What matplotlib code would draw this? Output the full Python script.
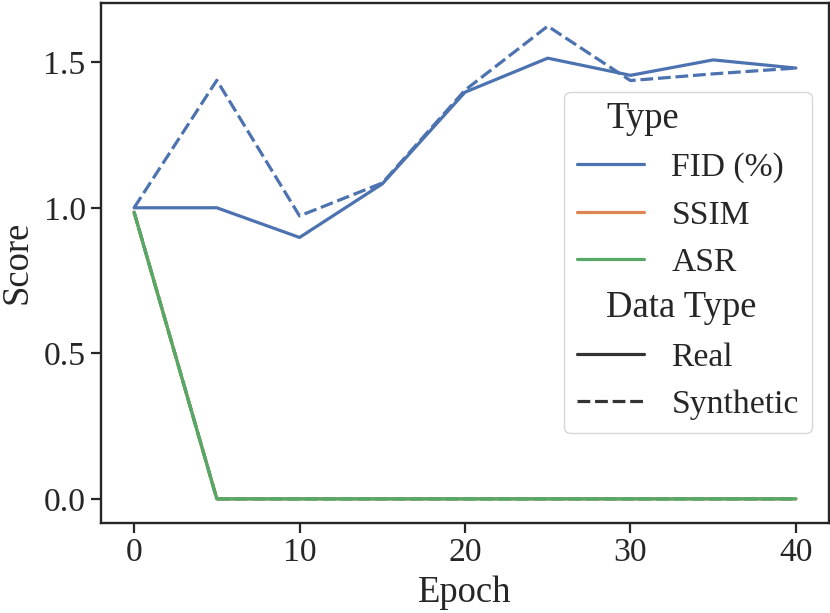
import matplotlib
matplotlib.use("Agg")
import matplotlib.pyplot as plt
import seaborn as sns
import pandas as pd

epochs = [0, 5, 10, 15, 20, 25, 30, 35, 40]
fid_real = [1.0, 1.0, 0.898, 1.082, 1.397, 1.514, 1.455, 1.508, 1.480]
fid_synth = [1.0, 1.438, 0.972, 1.085, 1.404, 1.624, 1.437, 1.460, 1.480]
ssim_real = [0.985, 0.0, 0.0, 0.0, 0.0, 0.0, 0.0, 0.0, 0.0]
ssim_synth = [0.985, 0.0, 0.0, 0.0, 0.0, 0.0, 0.0, 0.0, 0.0]
asr_real = [0.985, 0.0, 0.0, 0.0, 0.0, 0.0, 0.0, 0.0, 0.0]
asr_synth = [0.985, 0.0, 0.0, 0.0, 0.0, 0.0, 0.0, 0.0, 0.0]

type_names = ["FID (%)", "SSIM", "ASR"]
data_types = ["Real", "Synthetic"]
legend_titles = ["Type", "Data Type"]
series = {
    ("FID (%)", "Real"): fid_real,
    ("FID (%)", "Synthetic"): fid_synth,
    ("SSIM", "Real"): ssim_real,
    ("SSIM", "Synthetic"): ssim_synth,
    ("ASR", "Real"): asr_real,
    ("ASR", "Synthetic"): asr_synth,
}

rows = []
for t in type_names:
    for d in data_types:
        for e, v in zip(epochs, series[(t, d)]):
            rows.append({"Epoch": e, "Score": v, "Type": t, "Data Type": d})
df = pd.DataFrame(rows)

sns.set_theme(style="ticks", font_scale=2.2)
plt.rcParams["font.family"] = ["Liberation Serif", "DejaVu Serif"]
plt.rcParams["axes.linewidth"] = 1.7
plt.rcParams["xtick.major.width"] = 1.6
plt.rcParams["ytick.major.width"] = 1.6
plt.rcParams["xtick.major.size"] = 7.5
plt.rcParams["ytick.major.size"] = 7.5
plt.rcParams["lines.linewidth"] = 2.3

fig = plt.figure(figsize=(8.30, 6.13), dpi=100)
ax = fig.add_axes([101 / 830, (613 - 522.5) / 613, 728 / 830, 520 / 613])
sns.lineplot(data=df, x="Epoch", y="Score", hue="Type", style="Data Type",
             hue_order=type_names, style_order=data_types, ax=ax, linewidth=2.3)
ax.set_xticks([0, 10, 20, 30, 40])
ax.set_yticks([0.0, 0.5, 1.0, 1.5])
ax.set_xlabel("Epoch", fontsize=26.4, labelpad=5.5)
ax.set_ylabel("Score", fontsize=26.4, labelpad=6.5)

handles, labels = ax.get_legend_handles_labels()
new_labels = [" " if l in legend_titles else l for l in labels]
leg = ax.legend(handles, new_labels, loc="center right", fontsize=24.2,
                borderaxespad=0.5)
fig.canvas.draw()
renderer = fig.canvas.get_renderer()
texts = leg.get_texts()
label_x0 = None
for txt in texts:
    if txt.get_text().strip():
        label_x0 = txt.get_window_extent(renderer).x0
        break
for txt, orig in zip(texts, labels):
    if orig in legend_titles:
        bb = txt.get_window_extent(renderer)
        fig.text(label_x0 - 65, bb.y0, orig, fontsize=26.4, ha="left",
                 va="bottom", transform=None, color=".15")
fig.savefig("out.png", dpi=100)
